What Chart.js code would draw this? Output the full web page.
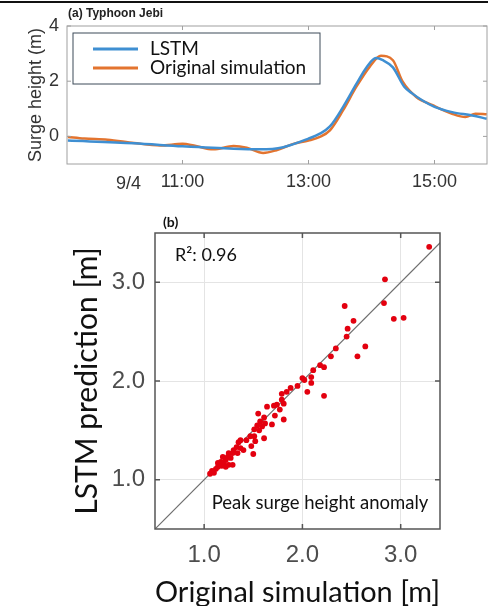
<!DOCTYPE html>
<html>
<head>
<meta charset="utf-8">
<script src="https://cdn.jsdelivr.net/npm/chart.js@4/dist/chart.umd.min.js"></script>
<style>
  html, body { margin: 0; padding: 0; background: #fff; }
  #wrap { position: relative; width: 488px; height: 606px; overflow: hidden; }
  #rule { position: absolute; left: 0; top: 1px; width: 488px; height: 2px; background: #111; }
  #surge { position: absolute; left: 0; top: 0; }
  #peak { position: absolute; left: 0; top: 200px; }
</style>
</head>
<body>
<div id="wrap">
  <canvas id="surge" width="488" height="200"></canvas>
  <canvas id="peak" width="488" height="406"></canvas>
  <div id="rule"></div>
</div>
<script>
// (a) time series, hours of 9/4
const lstmHours = [9.18, 10.23, 11.0, 11.81, 12.23, 12.6, 13.0, 13.18, 13.34, 13.55, 13.76, 13.92, 14.07, 14.18, 14.34, 14.52, 14.65, 14.81, 15.0, 15.28, 15.6, 15.83];
const lstmSurge = [-0.15, -0.25, -0.36, -0.45, -0.47, -0.39, -0.08, 0.1, 0.36, 1.07, 1.9, 2.5, 2.84, 2.76, 2.5, 1.8, 1.55, 1.3, 1.07, 0.88, 0.76, 0.64];
const simHours = [9.18, 9.44, 9.81, 10.23, 10.65, 11.0, 11.18, 11.49, 11.81, 12.02, 12.28, 12.49, 12.76, 13.0, 13.18, 13.34, 13.55, 13.76, 13.97, 14.15, 14.34, 14.49, 14.71, 14.97, 15.28, 15.49, 15.65, 15.83];
const simSurge = [-0.02, -0.08, -0.12, -0.24, -0.33, -0.27, -0.33, -0.47, -0.35, -0.41, -0.6, -0.5, -0.27, -0.15, -0.02, 0.22, 0.95, 1.8, 2.52, 2.92, 2.76, 2.0, 1.43, 1.13, 0.82, 0.7, 0.82, 0.8];
const timeTicks = [11, 13, 15];
const timeLabels = ["11:00", "13:00", "15:00"];
const surgeTicks = [0, 2, 4];

// (b) peak surge height anomaly
const simPeak = [3.29, 2.84, 2.83, 2.93, 3.03, 2.43, 2.52, 2.46, 2.45, 2.64, 2.56, 2.34, 2.29, 2.18, 2.22, 2.11, 2.22, 2.05, 2.0, 2.02, 2.09, 2.09, 1.95, 1.88, 1.84, 1.79, 1.79, 1.81, 1.74, 1.71, 1.77, 1.72, 1.81, 1.69, 1.64, 1.55, 1.61, 1.57, 1.62, 1.54, 1.59, 1.56, 1.51, 1.61, 1.51, 1.47, 1.43, 1.52, 1.48, 1.5, 1.37, 1.35, 1.33, 1.37, 1.4, 1.3, 1.29, 1.34, 1.25, 1.24, 1.27, 1.22, 1.19, 1.17, 1.2, 1.25, 1.14, 1.14, 1.12, 1.08, 1.06, 1.1, 1.18, 1.22, 1.29];
const lstmPeak = [3.36, 3.03, 2.79, 2.63, 2.64, 2.76, 2.61, 2.53, 2.45, 2.35, 2.25, 2.33, 2.25, 2.16, 2.14, 2.11, 1.85, 1.89, 2.03, 2.01, 2.04, 1.98, 1.95, 1.93, 1.89, 1.87, 1.81, 1.77, 1.76, 1.75, 1.71, 1.65, 1.61, 1.56, 1.74, 1.67, 1.63, 1.59, 1.57, 1.55, 1.54, 1.5, 1.51, 1.42, 1.44, 1.44, 1.4, 1.39, 1.34, 1.26, 1.4, 1.38, 1.33, 1.32, 1.3, 1.3, 1.27, 1.27, 1.27, 1.23, 1.22, 1.2, 1.23, 1.18, 1.17, 1.15, 1.17, 1.13, 1.11, 1.09, 1.06, 1.07, 1.14, 1.13, 1.15];
const peakTicks = [1, 2, 3];
const diagLine = [0.5, 3.5];

const toXY = (xs, ys) => xs.map((x, i) => ({ x: x, y: ys[i] }));
const setTicks = (vals) => (s) => { s.ticks = vals.map((v) => ({ value: v })); };

function drawBox(chart, color, width, len) {
  const { ctx, chartArea: a, scales } = chart;
  ctx.save();
  ctx.strokeStyle = color;
  ctx.lineWidth = width;
  ctx.strokeRect(a.left, a.top, a.right - a.left, a.bottom - a.top);
  ctx.beginPath();
  scales.x.ticks.forEach((t) => {
    const px = scales.x.getPixelForValue(t.value);
    ctx.moveTo(px, a.bottom); ctx.lineTo(px, a.bottom - len);
    ctx.moveTo(px, a.top); ctx.lineTo(px, a.top + len);
  });
  scales.y.ticks.forEach((t) => {
    const py = scales.y.getPixelForValue(t.value);
    ctx.moveTo(a.left, py); ctx.lineTo(a.left + len, py);
    ctx.moveTo(a.right, py); ctx.lineTo(a.right - len, py);
  });
  ctx.stroke();
  ctx.restore();
}

const surgeDecor = {
  id: "surgeDecor",
  afterDraw(chart) {
    const { ctx, chartArea: a, scales } = chart;
    drawBox(chart, "#a0a0a0", 1, 4);
    ctx.save();
    // panel title
    ctx.fillStyle = "#222";
    ctx.font = "bold 12px 'Liberation Sans'";
    ctx.textBaseline = "middle";
    ctx.fillText("(a) Typhoon Jebi", a.left + 1, 14);
    // date label next to first tick
    ctx.fillStyle = "#333";
    ctx.font = "18px 'Liberation Sans'";
    ctx.textAlign = "center";
    ctx.fillText("9/4", scales.x.getPixelForValue(11) - 54, a.bottom + 20);
    // legend
    const lx = a.left + 6, ly = a.top + 7;
    ctx.strokeStyle = "#3c4a58";
    ctx.lineWidth = 1;
    ctx.strokeRect(lx, ly, 247, 51);
    ctx.textAlign = "left";
    ctx.font = "19px Lato";
    ctx.fillStyle = "#111";
    chart.data.datasets.forEach((ds, i) => {
      const yy = ly + 16 + i * 19;
      ctx.strokeStyle = ds.borderColor;
      ctx.lineWidth = 3;
      ctx.beginPath();
      ctx.moveTo(lx + 20, yy); ctx.lineTo(lx + 65, yy);
      ctx.stroke();
      ctx.fillText(ds.label, lx + 77, yy);
    });
    ctx.restore();
  }
};

new Chart(document.getElementById("surge"), {
  type: "line",
  data: {
    datasets: [
      { label: "LSTM", data: toXY(lstmHours, lstmSurge), borderColor: "#3f8fd2", borderWidth: 2.5, pointRadius: 0, cubicInterpolationMode: "monotone" },
      { label: "Original simulation", data: toXY(simHours, simSurge), borderColor: "#e3742f", borderWidth: 2.5, pointRadius: 0, cubicInterpolationMode: "monotone" }
    ]
  },
  options: {
    responsive: false,
    animation: false,
    layout: { padding: { left: 0, top: 26, right: 1, bottom: 0 } },
    plugins: { legend: { display: false }, tooltip: { enabled: false } },
    scales: {
      x: {
        type: "linear", min: 9.1667, max: 15.8333,
        afterBuildTicks: setTicks(timeTicks),
        afterFit: (s) => { s.height = 36; },
        grid: { display: false, drawTicks: false }, border: { display: false },
        ticks: { autoSkip: false, maxRotation: 0, padding: 7, color: "#333", font: { family: "'Liberation Sans'", size: 18 }, callback: (v, i) => timeLabels[i] }
      },
      y: {
        min: -1, max: 4,
        afterBuildTicks: setTicks(surgeTicks),
        afterFit: (s) => { s.width = 67; },
        grid: { display: false, drawTicks: false }, border: { display: false },
        ticks: { padding: 8, color: "#333", font: { family: "'Liberation Sans'", size: 18 } },
        title: { display: true, text: "Surge height (m)", color: "#333", font: { family: "'Liberation Sans'", size: 18 }, padding: { top: 25, bottom: 0 } }
      }
    }
  },
  plugins: [surgeDecor]
});

const peakDecor = {
  id: "peakDecor",
  afterDraw(chart) {
    const { ctx, chartArea: a } = chart;
    drawBox(chart, "#555", 1.5, 5);
    ctx.save();
    ctx.fillStyle = "#111";
    ctx.textBaseline = "middle";
    ctx.font = "bold 14px Lato";
    ctx.fillText("(b)", a.left + 8, a.top - 11);
    ctx.font = "18px Lato";
    ctx.fillText("R\u00b2: 0.96", a.left + 20, a.top + 22);
    ctx.font = "18.5px Lato";
    ctx.textAlign = "center";
    ctx.fillText("Peak surge height anomaly", a.left + 165, a.bottom - 26);
    ctx.restore();
  }
};

new Chart(document.getElementById("peak"), {
  type: "scatter",
  data: {
    datasets: [
      { label: "Peak", data: toXY(simPeak, lstmPeak), backgroundColor: "#e3000f", borderWidth: 0, pointRadius: 2.9 },
      { label: "1:1", data: toXY(diagLine, diagLine), showLine: true, borderColor: "#6e6e6e", borderWidth: 1.2, pointRadius: 0 }
    ]
  },
  options: {
    responsive: false,
    animation: false,
    layout: { padding: { left: 0, top: 33, right: 48, bottom: 0 } },
    plugins: { legend: { display: false }, tooltip: { enabled: false } },
    scales: {
      x: {
        min: 0.5, max: 3.4,
        afterBuildTicks: setTicks(peakTicks),
        afterFit: (s) => { s.height = 77; },
        grid: { color: "#e4e4e4", drawTicks: false }, border: { display: false },
        ticks: { padding: 12, color: "#4d4d4d", font: { family: "'Liberation Sans'", size: 24 }, callback: (v) => v.toFixed(1) },
        title: { display: true, text: "Original simulation [m]", color: "#111", font: { family: "Lato", size: 29, lineHeight: 1 }, padding: { top: 0, bottom: -1 } }
      },
      y: {
        min: 0.5, max: 3.5,
        afterBuildTicks: setTicks(peakTicks),
        afterFit: (s) => { s.width = 155; },
        grid: { color: "#e4e4e4", drawTicks: false }, border: { display: false },
        ticks: { padding: 10, color: "#4d4d4d", font: { family: "'Liberation Sans'", size: 24 }, callback: (v) => v.toFixed(1) },
        title: { display: true, text: "LSTM prediction [m]", color: "#111", font: { family: "Lato", size: 30, lineHeight: 1 }, padding: { top: 72, bottom: 0 } }
      }
    }
  },
  plugins: [peakDecor]
});
</script>
</body>
</html>
